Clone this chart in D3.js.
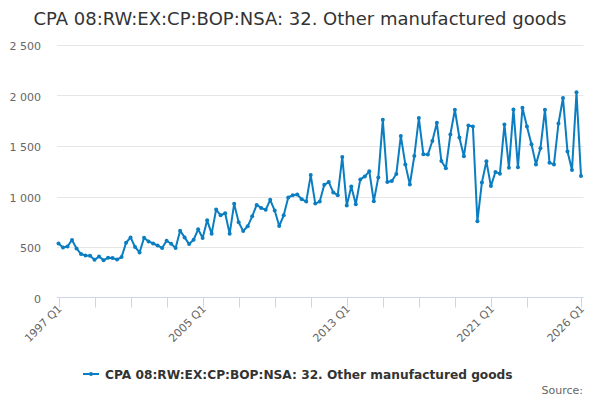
<!DOCTYPE html>
<html>
<head>
<meta charset="utf-8">
<script src="https://cdn.jsdelivr.net/npm/d3@7"></script>
<style>
  body { margin: 0; background: #fff; }
  svg { font-family: "DejaVu Sans", "Lucida Grande", sans-serif; }
</style>
</head>
<body>
<svg id="chart" width="600" height="400"></svg>
<script>
// quarters, 1997 Q1 .. 2026 Q1
const years = d3.range(1997, 2027);
const quarters = [];
years.forEach(y => ['Q1', 'Q2', 'Q3', 'Q4'].forEach(q => quarters.push(y + ' ' + q)));
const categories = quarters.slice(0, 117);

const values = [
    535, 495, 505, 570, 486, 430, 416, 413, 373, 406, 370, 393, 390, 376, 400, 542,
    595, 500, 446, 592, 555, 535, 515, 490, 562, 532, 490, 662, 595, 529, 572, 675,
    589, 764, 632, 871, 814, 834, 632, 927, 744, 659, 705, 804, 917, 887, 868, 967,
    861, 708, 814, 990, 1013, 1020, 973, 950, 1212, 930, 950, 1116, 1143, 1040, 1013, 1391,
    910, 1100, 923, 1169, 1199, 1249, 953, 1189, 1759, 1143, 1153, 1222, 1600, 1318, 1119, 1401,
    1776, 1418, 1415, 1550, 1729, 1351, 1279, 1614, 1859, 1584, 1398, 1703, 1693, 754, 1139, 1348,
    1103, 1242, 1226, 1713, 1285, 1862, 1289, 1879, 1693, 1517, 1318, 1478, 1859, 1335, 1318, 1723,
    1975, 1445, 1262, 2032, 1202
];

const yTicks = [0, 500, 1000, 1500, 2000, 2500];
const xTickLabels = ['1997 Q1', '2005 Q1', '2013 Q1', '2021 Q1', '2026 Q1'];

const titleText = 'CPA 08:RW:EX:CP:BOP:NSA: 32. Other manufactured goods';
const seriesName = 'CPA 08:RW:EX:CP:BOP:NSA: 32. Other manufactured goods';

const lineColor = '#0b7dc1';
const svg = d3.select('#chart');

const plot = { left: 57, right: 583.5, top: 45, bottom: 297.5 };

const x = d3.scaleLinear()
    .domain([0, categories.length - 1])
    .range([58.5, 581]);

const y = d3.scaleLinear()
    .domain([0, 2500])
    .range([plot.bottom, plot.top]);

const fmt = d3.formatLocale({ decimal: '.', thousands: ' ', grouping: [3], currency: ['', ''] }).format(',');

// Title
svg.append('text')
    .attr('x', 300)
    .attr('y', 25)
    .attr('text-anchor', 'middle')
    .attr('font-size', 18)
    .attr('fill', '#333333')
    .text(titleText);

// Grid lines + y labels
let gY = svg.append('g').attr('class', 'y-axis');
yTicks.forEach(function(t) {
    if (t > 0) {
        gY.append('line')
            .attr('x1', plot.left)
            .attr('x2', plot.right)
            .attr('y1', Math.round(y(t)) + 0.5)
            .attr('y2', Math.round(y(t)) + 0.5)
            .style('stroke', '#e6e6e6')
            .style('stroke-width', 1);
    }
    gY.append('text')
        .attr('x', 41)
        .attr('y', y(t) + 5)
        .attr('text-anchor', 'end')
        .attr('font-size', 11)
        .attr('fill', '#666666')
        .text(fmt(t));
});

// X axis line and ticks
let gX = svg.append('g').attr('class', 'x-axis');
gX.append('line')
    .attr('x1', plot.left)
    .attr('x2', plot.right)
    .attr('y1', plot.bottom)
    .attr('y2', plot.bottom)
    .style('stroke', '#ccd6eb')
    .style('stroke-width', 1);

// ticks every 2 years, the 2025 one gives way to the end tick
let tickIdx = d3.range(0, categories.length, 8).filter(i => i < 112);
tickIdx.push(categories.length - 1);
tickIdx.forEach(function(i) {
    gX.append('line')
        .attr('x1', Math.round(x(i)) + 0.5)
        .attr('x2', Math.round(x(i)) + 0.5)
        .attr('y1', plot.bottom)
        .attr('y2', plot.bottom + 10)
        .style('stroke', '#ccd6eb')
        .style('stroke-width', 1);
});

xTickLabels.forEach(function(lbl) {
    let i = categories.indexOf(lbl);
    gX.append('text')
        .attr('transform', 'translate(' + (x(i) + 4) + ',' + (plot.bottom + 12) + ') rotate(-45)')
        .attr('text-anchor', 'end')
        .attr('font-size', 11)
        .attr('fill', '#666666')
        .text(lbl);
});

// Series line
const line = d3.line()
    .x((d, i) => x(i))
    .y(d => y(d));

svg.append('path')
    .datum(values)
    .attr('d', line)
    .style('fill', 'none')
    .style('stroke', lineColor)
    .style('stroke-width', 2)
    .style('stroke-linejoin', 'round');

svg.append('g')
    .selectAll('circle')
    .data(values)
    .join('circle')
    .attr('cx', (d, i) => x(i))
    .attr('cy', d => y(d))
    .attr('r', 2)
    .style('fill', lineColor);

// Legend
let gL = svg.append('g').attr('class', 'legend');
gL.append('line')
    .attr('x1', 83)
    .attr('x2', 99)
    .attr('y1', 374)
    .attr('y2', 374)
    .style('stroke', lineColor)
    .style('stroke-width', 2);
gL.append('circle')
    .attr('cx', 91)
    .attr('cy', 374)
    .attr('r', 2)
    .style('fill', lineColor);
gL.append('text')
    .attr('x', 105)
    .attr('y', 378.5)
    .attr('font-size', 12.2)
    .attr('font-weight', 'bold')
    .attr('fill', '#333333')
    .text(seriesName);

// Credits
svg.append('text')
    .attr('x', 583)
    .attr('y', 394)
    .attr('text-anchor', 'end')
    .attr('font-size', 11)
    .attr('fill', '#666666')
    .text('Source:');
</script>
</body>
</html>
